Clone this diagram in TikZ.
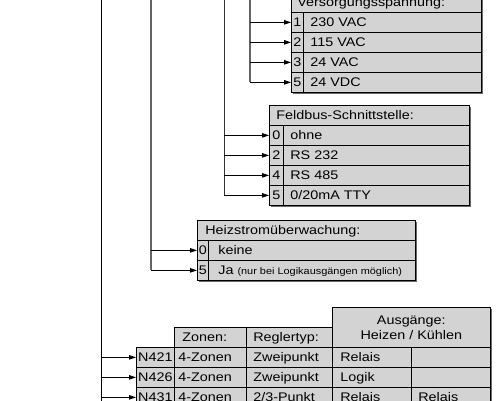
\documentclass[tikz,border=0pt]{standalone}
\usepackage{fontspec}
\setmainfont[FakeStretch=1.15]{Liberation Sans}
\usetikzlibrary{arrows.meta}
\definecolor{cellgray}{RGB}{211,211,211}
\definecolor{shadowgray}{RGB}{105,105,105}
\definecolor{linegray}{RGB}{100,100,100}
\newcommand\tcell[7]{\node[cell,#7] (#1) at (#2,#3) {\makebox[#4pt][l]{\hspace*{#5pt}#6}};}
\newcommand\ccell[6]{\node[cell,#6] (#1) at (#2,#3) {\makebox[#4pt][c]{#5}};}
\begin{document}
\begin{tikzpicture}[x=1pt,y=-1pt,
  cell/.style={draw=black, line width=0.7pt, fill=cellgray, anchor=north west, inner sep=0pt,
    minimum height=20pt, text height=10pt, text depth=1pt, font=\fontsize{12.5}{15}\selectfont},
  hdrtwo/.style={draw=black, line width=0.7pt, fill=cellgray, anchor=north west, inner sep=0pt,
    minimum width=158pt, minimum height=40pt, align=center, font=\fontsize{12.5}{15}\selectfont},
  arr/.style={draw=black, line width=0.8pt, -{Triangle[length=7pt,width=4.5pt]}},
  vline/.style={line width=1pt},
  shadowbox/.style={fill=shadowgray}]
\clip (0,0) rectangle (500,400);
\fill[white] (0,0) rectangle (500,400);

% ---------- connector trunks ----------
\coordinate (va) at (101,-10);
\coordinate (vaend) at (101,410);
\coordinate (vb) at (151,-10);
\coordinate (vc) at (224,-10);
\coordinate (vd) at (250,-10);

% ---------- Versorgungsspannung ----------
\fill[shadowbox] (292.5,-6.5) rectangle (482.5,93.5);
\tcell{vh}{291}{-8}{190}{6}{Versorgungsspannung:}{}
\ccell{vs1}{291}{12}{12}{1}{}
\tcell{vt1}{303}{12}{178}{7}{230 VAC}{}
\ccell{vs2}{291}{32}{12}{2}{}
\tcell{vt2}{303}{32}{178}{7}{115 VAC}{}
\ccell{vs3}{291}{52}{12}{3}{}
\tcell{vt3}{303}{52}{178}{7}{24 VAC}{}
\ccell{vs4}{291}{72}{12}{5}{}
\tcell{vt4}{303}{72}{178}{7}{24 VDC}{}

% ---------- Feldbus ----------
\fill[shadowbox] (270.5,106.5) rectangle (470.5,206.5);
\tcell{fh}{269}{105}{200}{7}{Feldbus-Schnittstelle:}{}
\ccell{fs1}{269}{125}{14}{0}{}
\tcell{ft1}{283}{125}{186}{7}{ohne}{}
\ccell{fs2}{269}{145}{14}{2}{}
\tcell{ft2}{283}{145}{186}{7}{RS 232}{}
\ccell{fs3}{269}{165}{14}{4}{}
\tcell{ft3}{283}{165}{186}{7}{RS 485}{}
\ccell{fs4}{269}{185}{14}{5}{}
\tcell{ft4}{283}{185}{186}{7}{0/20mA TTY}{}

% ---------- Heizstrom ----------
\fill[shadowbox] (198.5,221.5) rectangle (416.5,281.5);
\tcell{hh}{197}{220}{218}{8}{Heizstrom\"uberwachung:}{}
\ccell{hs1}{197}{240}{11}{0}{}
\tcell{ht1}{208}{240}{207}{10}{keine}{}
\ccell{hs2}{197}{260}{11}{5}{}
\tcell{ht2}{208}{260}{207}{10}{Ja {\fontsize{9.5}{11}\selectfont (nur bei Logikausg\"angen m\"oglich)}}{}

% ---------- Typ table ----------
\fill[shadowbox] (333.5,308.5) rectangle (491.5,410);
\fill[shadowbox] (175.5,328.5) rectangle (333.5,350);
\fill[shadowbox] (137.5,348.5) rectangle (491.5,410);
\node[hdrtwo] (ha) at (332,307) {Ausg\"ange:\\Heizen / K\"uhlen};
\tcell{hz}{174}{327}{72}{8}{Zonen:}{}
\tcell{hr}{246}{327}{86}{7}{Reglertyp:}{}

\ccell{n1}{136}{347}{38}{N421}{}
\tcell{z1}{174}{347}{72}{4}{4-Zonen}{}
\tcell{r1}{246}{347}{86}{7}{Zweipunkt}{}
\tcell{a1}{332}{347}{79}{8}{Relais}{}
\tcell{b1}{411}{347}{79}{7}{}{}

\ccell{n2}{136}{367}{38}{N426}{}
\tcell{z2}{174}{367}{72}{4}{4-Zonen}{}
\tcell{r2}{246}{367}{86}{7}{Zweipunkt}{}
\tcell{a2}{332}{367}{79}{8}{Logik}{}
\tcell{b2}{411}{367}{79}{7}{}{}

\ccell{n3}{136}{387}{38}{N431}{}
\tcell{z3}{174}{387}{72}{4}{4-Zonen}{}
\tcell{r3}{246}{387}{86}{7}{2/3-Punkt}{}
\tcell{a3}{332}{387}{79}{8}{Relais}{}
\tcell{b3}{411}{387}{79}{7}{Relais}{}

% ---------- connectors ----------
\draw[vline, black, line width=0.9pt] (va) -- (vaend);
\draw[vline, linegray, line width=1.3pt] (vb) -- (vb |- hs2.west);
\draw[vline, black!80, line width=0.9pt] (vc) -- (vc |- fs4.west);
\draw[vline, linegray, line width=1.2pt] (vd) -- (vd |- vs4.west);

\foreach \n in {vs1,vs2,vs3,vs4} \draw[arr] (vd |- \n.west) -- (\n.west);
\foreach \n in {fs1,fs2,fs3,fs4} \draw[arr] (vc |- \n.west) -- (\n.west);
\foreach \n in {hs1,hs2} \draw[arr] (vb |- \n.west) -- (\n.west);
\foreach \n in {n1,n2,n3} \draw[arr] (va |- \n.west) -- (\n.west);
\end{tikzpicture}
\end{document}
